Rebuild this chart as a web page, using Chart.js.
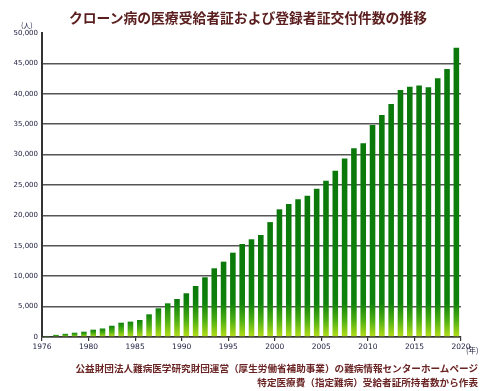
<!DOCTYPE html>
<html><head><meta charset="utf-8">
<script src="https://cdn.jsdelivr.net/npm/chart.js@4"></script>
<style>
html,body{margin:0;padding:0;background:#fff;}
#wrap{position:relative;width:500px;height:391px;overflow:hidden;font-family:"Noto Sans CJK JP",sans-serif;}
canvas{position:absolute;left:0;top:0;}
.t{position:absolute;white-space:nowrap;}
</style></head><body>
<div id="wrap">
<canvas id="c" width="500" height="391"></canvas>
<div class="t" style="left:0;width:496px;top:8px;text-align:center;font-size:13.8px;font-weight:bold;color:#5a1e1e;line-height:18px;">クローン病の医療受給者証および登録者証交付件数の推移</div>
<div class="t" style="left:21px;top:21px;font-size:7px;line-height:9px;color:#222244;">(人)</div>
<div class="t" style="left:466px;top:345px;font-size:7.5px;line-height:10px;color:#222244;">(年)</div>
<div class="t" style="right:22px;top:361px;text-align:right;font-size:9.6px;font-weight:bold;color:#6a2424;line-height:14px;">公益財団法人難病医学研究財団運営（厚生労働省補助事業）の難病情報センターホームページ<br>特定医療費（指定難病）受給者証所持者数から作表</div>
</div>
<script>
const years = ['1976','1977','1978','1979','1980','1981','1982','1983','1984','1985',
  '1986','1987','1988','1989','1990','1991','1992','1993','1994','1995',
  '1996','1997','1998','1999','2000','2001','2002','2003','2004','2005',
  '2006','2007','2008','2009','2010','2011','2012','2013','2014','2015',
  '2016','2017','2018','2019','2020'];
const patients = [170,350,520,700,870,1200,1400,1850,2350,2530,
  2800,3730,4720,5540,6250,7190,8390,9820,11300,12390,
  13870,15300,16070,16780,18900,21000,21880,22650,23240,24390,
  25710,27350,29350,31040,31860,34870,36510,38320,40630,41180,
  41350,41070,42550,44080,47590];
const xTickLabels = ['1976','1980','1985','1990','1995','2000','2005','2010','2015','2020'];
const yMax = 50000;
const yStep = 5000;

function barFill(ctx) {
  const chart = ctx.chart;
  if (!chart.chartArea || ctx.type !== 'data' || !chart.scales.y) return '#0b7d0b';
  const ys = chart.scales.y;
  const top = ys.getPixelForValue(ctx.raw);
  const bottom = ys.getPixelForValue(0);
  const start = Math.min(top, bottom - 1);
  const h = bottom - start;
  const fade = Math.min(h, 34);
  const f0 = 1 - fade / h;
  const g = chart.ctx.createLinearGradient(0, start, 0, bottom);
  g.addColorStop(0, '#0a780a');
  g.addColorStop(f0, '#0e820c');
  g.addColorStop(f0 + (1 - f0) * 0.5, '#4cae12');
  g.addColorStop(1, '#b6df1a');
  return g;
}

new Chart(document.getElementById('c'), {
  type: 'bar',
  data: {
    labels: years,
    datasets: [{
      data: patients,
      backgroundColor: barFill,
      borderWidth: 0,
      barPercentage: 0.6,
      categoryPercentage: 1.0,
      xAxisID: 'x',
      yAxisID: 'y'
    }]
  },
  options: {
    responsive: false,
    animation: false,
    events: [],
    layout: { padding: { top: 33, right: 39, bottom: 38, left: 0 } },
    plugins: { legend: { display: false }, tooltip: { enabled: false }, title: { display: false } },
    scales: {
      x: { type: 'category', display: false, offset: true },
      x2: {
        type: 'linear', position: 'bottom', min: 0, max: (xTickLabels.length - 1) * 5,
        offset: false,
        afterFit: s => { s.height = 16; },
        grid: { offset: false, drawOnChartArea: false, drawTicks: true, tickLength: 4, color: '#333', lineWidth: 1.2 },
        border: { display: true, color: '#333', width: 1.5 },
        ticks: {
          stepSize: 5, autoSkip: false, maxRotation: 0, padding: 2,
          color: '#222244', font: { family: 'DejaVu Sans', size: 7.5 },
          callback: v => xTickLabels[Math.round(v / 5)]
        }
      },
      y: {
        min: 0, max: yMax,
        afterFit: s => { s.width = 42; },
        grid: {
          drawTicks: false,
          color: c => (c.tick && c.tick.value === yMax) ? 'rgba(0,0,0,0)' : '#555',
          lineWidth: 1.5
        },
        border: { display: true, color: '#333', width: 2 },
        ticks: {
          stepSize: yStep, padding: 4, color: '#222244',
          font: { family: 'DejaVu Sans', size: 7 },
          callback: v => v.toLocaleString('en-US')
        }
      }
    }
  }
});
</script>
</body></html>
